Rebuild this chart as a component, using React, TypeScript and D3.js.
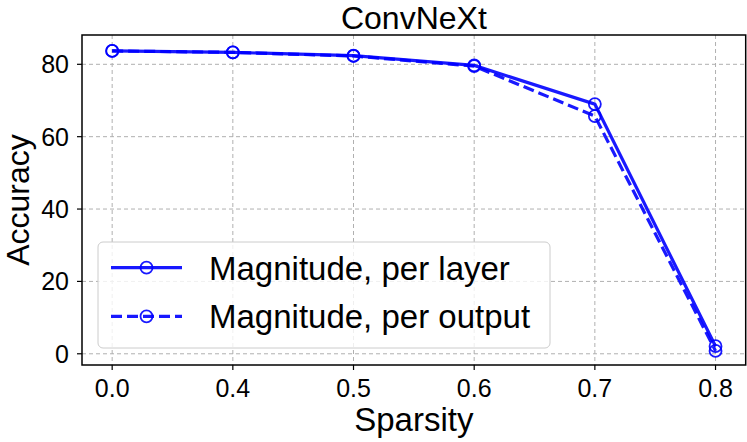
import React from "react";
import * as d3 from "d3";

const categories = ["0.0", "0.4", "0.5", "0.6", "0.7", "0.8"];
const perLayer = [83.7, 83.3, 82.4, 79.7, 69.0, 2.1];
const perOutput = [83.7, 83.3, 82.3, 79.5, 65.7, 0.8];
const yTicks = [0, 20, 40, 60, 80];
const seriesNames = ["Magnitude, per layer", "Magnitude, per output"];

const W = 747;
const H = 442;
const L = 82, R = 745.7, T = 35, B = 365;
const FONT = "'Liberation Sans', Arial, Helvetica, sans-serif";
const BLUE = "#0000ff";

export default function App() {
  const x = d3.scalePoint<string>().domain(categories).range([L, R]).padding(0.25);
  const y = d3.scaleLinear().domain([-3.1, 88.1]).range([B, T]);
  const line = d3
    .line<number>()
    .x((_, i) => x(categories[i]) as number)
    .y((d) => y(d));

  const series = [
    { name: seriesNames[0], values: perLayer, dash: undefined as string | undefined },
    { name: seriesNames[1], values: perOutput, dash: "11,5" },
  ];

  return (
    <svg
      width={W}
      height={H}
      style={{ position: "absolute", left: 0, top: 0, background: "#fff" }}
      fontFamily={FONT}
    >
      {/* grid */}
      {categories.map((c) => (
        <line
          key={"gx" + c}
          x1={x(c)}
          x2={x(c)}
          y1={T}
          y2={B}
          stroke="#b0b0b0"
          strokeWidth={1}
          strokeDasharray="4,3"
        />
      ))}
      {yTicks.map((t) => (
        <line
          key={"gy" + t}
          x1={L}
          x2={R}
          y1={y(t)}
          y2={y(t)}
          stroke="#b0b0b0"
          strokeWidth={1}
          strokeDasharray="4,3"
        />
      ))}

      {/* series */}
      {series.map((s) => (
        <g key={s.name}>
          <path
            d={line(s.values) || ""}
            fill="none"
            stroke={BLUE}
            strokeWidth={3.2}
            strokeDasharray={s.dash}
            opacity={0.9}
          />
          {s.values.map((v, i) => (
            <circle
              key={i}
              cx={x(categories[i])}
              cy={y(v)}
              r={6}
              fill="none"
              stroke={BLUE}
              strokeWidth={1.8}
              opacity={0.9}
            />
          ))}
        </g>
      ))}

      {/* spines */}
      <rect x={L} y={T} width={R - L} height={B - T} fill="none" stroke="#000" strokeWidth={1.5} />

      {/* x ticks */}
      {categories.map((c) => (
        <g key={"tx" + c}>
          <line x1={x(c)} x2={x(c)} y1={B} y2={B + 5} stroke="#000" strokeWidth={1.2} />
          <text x={x(c)} y={396.5} textAnchor="middle" fontSize={25} fill="#000">
            {c}
          </text>
        </g>
      ))}
      {/* y ticks */}
      {yTicks.map((t) => (
        <g key={"ty" + t}>
          <line x1={L - 5} x2={L} y1={y(t)} y2={y(t)} stroke="#000" strokeWidth={1.2} />
          <text x={L - 13} y={y(t)} dy="0.36em" textAnchor="end" fontSize={25} fill="#000">
            {t}
          </text>
        </g>
      ))}

      {/* labels */}
      <text x={(L + R) / 2} y={29} textAnchor="middle" fontSize={32} fill="#000">
        ConvNeXt
      </text>
      <text x={(L + R) / 2} y={431} textAnchor="middle" fontSize={33} fill="#000">
        Sparsity
      </text>
      <text
        transform={`translate(29,${(T + B) / 2}) rotate(-90)`}
        textAnchor="middle"
        fontSize={32}
        fill="#000"
      >
        Accuracy
      </text>

      {/* legend */}
      <rect x={98} y={242} width={452} height={106} rx={5} fill="#fff" fillOpacity={0.8} stroke="#cccccc" strokeWidth={1} />
      {series.map((s, i) => {
        const ly = 267.7 + i * 48.6;
        return (
          <g key={"lg" + s.name}>
            <line x1={111} x2={182} y1={ly} y2={ly} stroke={BLUE} strokeWidth={3.2} strokeDasharray={s.dash} opacity={0.9} />
            <circle cx={146.5} cy={ly} r={6} fill="none" stroke={BLUE} strokeWidth={1.8} opacity={0.9} />
            <text x={209} y={ly} dy="0.36em" fontSize={33} fill="#000">
              {s.name}
            </text>
          </g>
        );
      })}
    </svg>
  );
}
